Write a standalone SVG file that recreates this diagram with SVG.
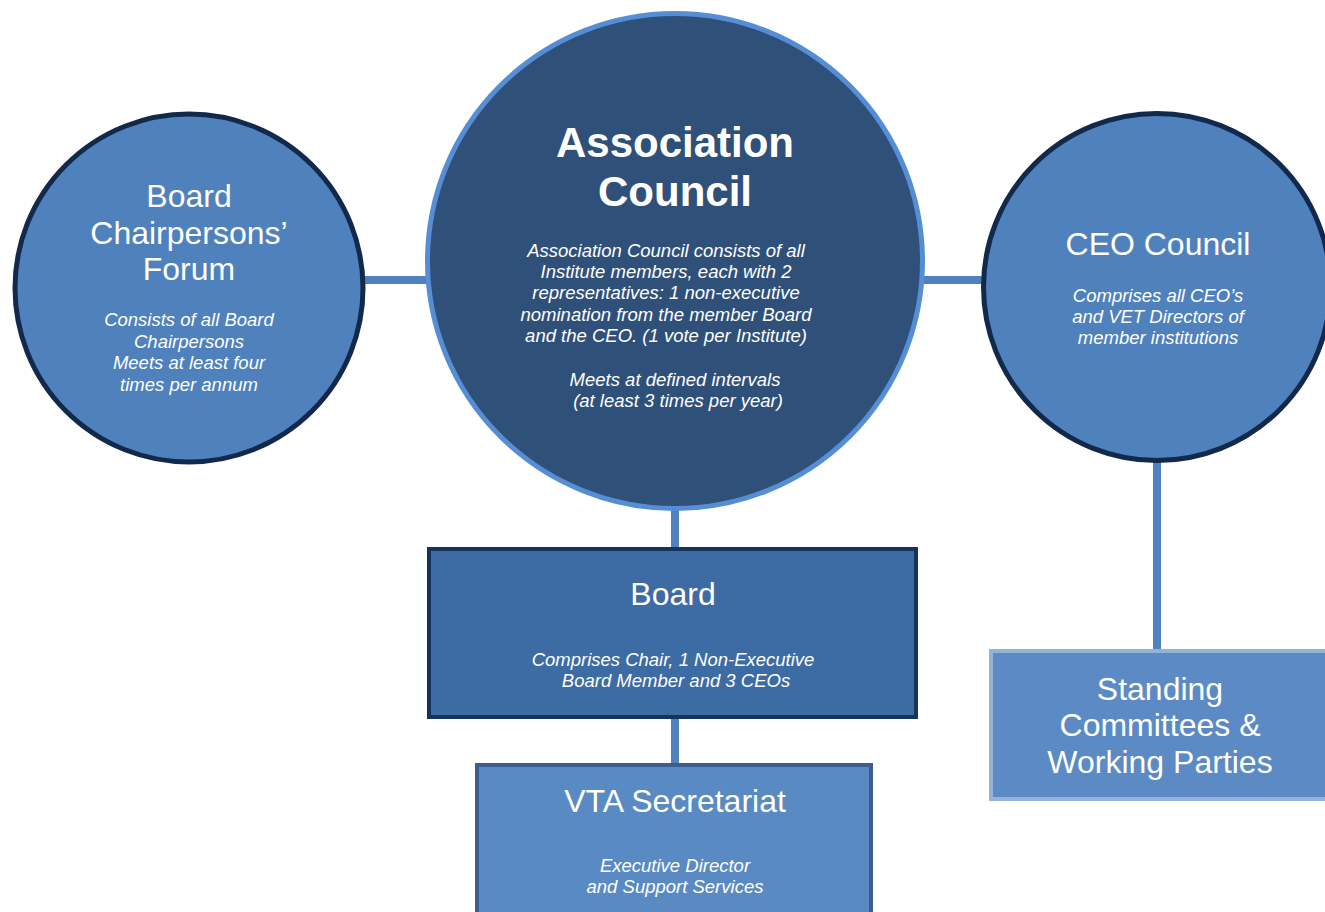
<svg xmlns="http://www.w3.org/2000/svg" width="1325" height="912" viewBox="0 0 1325 912">
<style>
.t{font-family:"Liberation Sans",Arial,sans-serif;fill:#fff;text-anchor:middle}
.h{font-size:32px}
.hb{font-size:42px;font-weight:bold}
.i{font-size:18.5px;font-style:italic}
.con{stroke:#4F81BD;stroke-width:8;fill:none}
</style>
<rect width="1325" height="912" fill="#fff"/>
<g id="connectors">
<line class="con" x1="360" y1="280" x2="430" y2="280"/>
<line class="con" x1="920" y1="280" x2="985" y2="280"/>
<line class="con" x1="675" y1="505" x2="675" y2="550"/>
<line class="con" x1="675" y1="715" x2="675" y2="767"/>
<line class="con" x1="1157" y1="458" x2="1157" y2="653"/>
</g>
<g id="board-chairpersons-forum">
<circle cx="189" cy="288" r="174" fill="#4F81BD" stroke="#13294B" stroke-width="5"/>
<text class="t h" x="189" y="207">Board</text>
<text class="t h" x="189" y="244">Chairpersons’</text>
<text class="t h" x="189" y="280">Forum</text>
<text class="t i" x="189" y="326">Consists of all Board</text>
<text class="t i" x="189" y="348">Chairpersons</text>
<text class="t i" x="189" y="369">Meets at least four</text>
<text class="t i" x="189" y="391">times per annum</text>
</g>
<g id="association-council">
<circle cx="675" cy="261" r="247.5" fill="#2F5079" stroke="#558ED5" stroke-width="5"/>
<text class="t hb" x="675" y="157">Association</text>
<text class="t hb" x="675" y="206">Council</text>
<text class="t i" x="666" y="257">Association Council consists of all</text>
<text class="t i" x="666" y="278">Institute members, each with 2</text>
<text class="t i" x="666" y="299">representatives: 1 non-executive</text>
<text class="t i" x="666" y="321">nomination from the member Board</text>
<text class="t i" x="666" y="342">and the CEO. (1 vote per Institute)</text>
<text class="t i" x="675" y="386">Meets at defined intervals</text>
<text class="t i" x="678" y="407">(at least 3 times per year)</text>
</g>
<g id="ceo-council">
<circle cx="1157" cy="287" r="173.5" fill="#4F81BD" stroke="#13294B" stroke-width="5"/>
<text class="t h" x="1158" y="255">CEO Council</text>
<text class="t i" x="1158" y="302">Comprises all CEO’s</text>
<text class="t i" x="1158" y="323">and VET Directors of</text>
<text class="t i" x="1158" y="344">member institutions</text>
</g>
<g id="board">
<rect x="429" y="549" width="487" height="168" fill="#3D6BA4" stroke="#17335A" stroke-width="4"/>
<text class="t h" x="673" y="605">Board</text>
<text class="t i" x="673" y="666">Comprises Chair, 1 Non-Executive</text>
<text class="t i" x="676" y="687">Board Member and 3 CEOs</text>
</g>
<g id="vta-secretariat">
<rect x="477" y="765" width="394" height="160" fill="#5A8AC4" stroke="#3A5E8E" stroke-width="4"/>
<text class="t h" x="675" y="812">VTA Secretariat</text>
<text class="t i" x="675" y="872">Executive Director</text>
<text class="t i" x="675" y="893">and Support Services</text>
</g>
<g id="standing-committees">
<rect x="991" y="651" width="340" height="148" fill="#5B8AC4" stroke="#95B3D7" stroke-width="4"/>
<text class="t h" x="1160" y="700">Standing</text>
<text class="t h" x="1160" y="736">Committees &amp;</text>
<text class="t h" x="1160" y="773">Working Parties</text>
</g>
</svg>
